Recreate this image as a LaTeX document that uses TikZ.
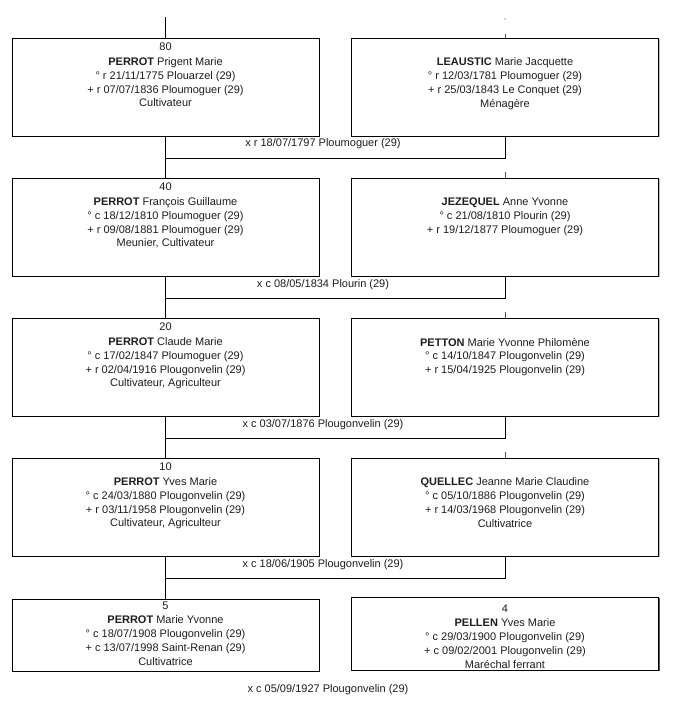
\documentclass[tikz,border=0pt]{standalone}
\usepackage{fontspec}
\setmainfont{Liberation Sans}
\usetikzlibrary{positioning,shadows}
\definecolor{boxshade}{RGB}{165,165,165}
\definecolor{inkgrey}{RGB}{30,30,30}
\definecolor{shadered}{RGB}{140,20,20}

\begin{document}
\begin{tikzpicture}[x=1pt, y=-1pt,
    person/.style={draw=black, fill=white, line width=0.8pt, minimum width=307pt, minimum height=98pt, inner sep=0pt,
        drop shadow={shadow xshift=1.3pt, shadow yshift=-1.3pt, fill=boxshade, opacity=0.7}},
    lastrow/.style={person, minimum height=72pt},
    info/.style={font=\fontsize{11}{13.8}\selectfont, align=center, inner sep=0pt, text=inkgrey},
    infotight/.style={info, font=\fontsize{11}{14}\selectfont},
    wed/.style={font=\fontsize{11}{13}\selectfont, inner sep=0pt, text=inkgrey},
    link/.style={line width=0.8pt},
    faint/.style={line width=0.6pt, black!70}]
    \useasboundingbox[fill=white] (0,0) rectangle (672,703);

    \node (p80) at (165.5,87) [person] {};
    \node (p81) at (505,87) [person] {};
    \node (p40) at (165.5,227) [person] {};
    \node (p41) at (505,227) [person] {};
    \node (p20) at (165.5,367) [person] {};
    \node (p21) at (505,367) [person] {};
    \node (p10) at (165.5,507) [person] {};
    \node (p11) at (505,507) [person] {};
    \node (p5) at (165.5,635) [lastrow] {};
    \node (p4) at (505,633.5) [lastrow, minimum height=73pt,
        drop shadow={shadow xshift=1.3pt, shadow yshift=-1.3pt, fill=shadered, opacity=0.8}] {};

    \node (t80) [info, below=4.8pt of p80.north] {80\\[1.5pt]\textbf{PERROT} Prigent Marie\\° r 21/11/1775 Plouarzel (29)\\+ r 07/07/1836 Ploumoguer (29)\\Cultivateur};
    \node (t81) [info, below=20.1pt of p81.north] {\textbf{LEAUSTIC} Marie Jacquette\\° r 12/03/1781 Ploumoguer (29)\\+ r 25/03/1843 Le Conquet (29)\\Ménagère};
    \node (t40) [info, below=4.8pt of p40.north] {40\\[1.5pt]\textbf{PERROT} François Guillaume\\° c 18/12/1810 Ploumoguer (29)\\+ r 09/08/1881 Ploumoguer (29)\\Meunier, Cultivateur};
    \node (t41) [info, below=20.1pt of p41.north] {\textbf{JEZEQUEL} Anne Yvonne\\° c 21/08/1810 Plourin (29)\\+ r 19/12/1877 Ploumoguer (29)};
    \node (t20) [info, below=4.8pt of p20.north] {20\\[1.5pt]\textbf{PERROT} Claude Marie\\° c 17/02/1847 Ploumoguer (29)\\+ r 02/04/1916 Plougonvelin (29)\\Cultivateur, Agriculteur};
    \node (t21) [info, below=20.1pt of p21.north] {\textbf{PETTON} Marie Yvonne Philomène\\° c 14/10/1847 Plougonvelin (29)\\+ r 15/04/1925 Plougonvelin (29)};
    \node (t10) [info, below=4.8pt of p10.north] {10\\[1.5pt]\textbf{PERROT} Yves Marie\\° c 24/03/1880 Plougonvelin (29)\\+ r 03/11/1958 Plougonvelin (29)\\Cultivateur, Agriculteur};
    \node (t11) [info, below=20.1pt of p11.north] {\textbf{QUELLEC} Jeanne Marie Claudine\\° c 05/10/1886 Plougonvelin (29)\\+ r 14/03/1968 Plougonvelin (29)\\Cultivatrice};
    \node (t5) [infotight, below=3.2pt of p5.north] {5\\\textbf{PERROT} Marie Yvonne\\° c 18/07/1908 Plougonvelin (29)\\+ c 13/07/1998 Saint-Renan (29)\\Cultivatrice};
    \node (t4) [infotight, below=8.5pt of p4.north] {4\\\textbf{PELLEN} Yves Marie\\° c 29/03/1900 Plougonvelin (29)\\+ c 09/02/2001 Plougonvelin (29)\\Maréchal ferrant};

    \node (x80) at (323,144) [wed] {x r 18/07/1797 Ploumoguer (29)};
    \node (x40) at (323,284.5) [wed] {x c 08/05/1834 Plourin (29)};
    \node (x20) at (323,424.5) [wed] {x c 03/07/1876 Plougonvelin (29)};
    \node (x10) at (323,564.5) [wed] {x c 18/06/1905 Plougonvelin (29)};
    \node (x5) at (328,690) [wed] {x c 05/09/1927 Plougonvelin (29)};

    \coordinate (top80) at (165.5,17);
    \coordinate (w80) at (165.5,158);
    \coordinate (w40) at (165.5,298);
    \coordinate (w20) at (165.5,438);
    \coordinate (w10) at (165.5,578);
    \draw[link] (top80) -- (p80.north);
    \draw[link] (p80.south) -- (p40.north);
    \draw[link] (p40.south) -- (p20.north);
    \draw[link] (p20.south) -- (p10.north);
    \draw[link] (p10.south) -- (p5.north);
    \draw[link] (p81.south) |- (w80);
    \draw[link] (p41.south) |- (w40);
    \draw[link] (p21.south) |- (w20);
    \draw[link] (p11.south) |- (w10);

    \draw[faint] (p81.north) -- ++(0,-4);
    \fill[black!70] (505,19) circle (0.6pt);
    \draw[faint] (p41.north) -- ++(0,-6);
    \draw[faint] (p21.north) -- ++(0,-6);
    \draw[faint] (p11.north) -- ++(0,-6);
\end{tikzpicture}
\end{document}
